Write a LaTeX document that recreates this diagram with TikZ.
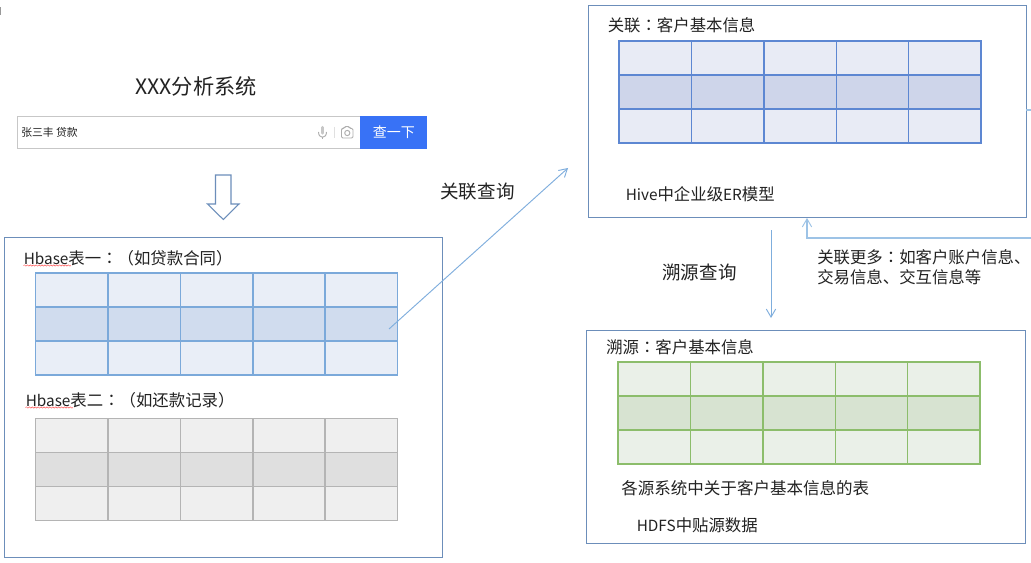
\documentclass[tikz,border=0pt]{standalone}
\usepackage{fontspec}
\setmainfont{Noto Sans CJK SC}
\newfontfamily\tcfont{Noto Sans CJK TC}
\usetikzlibrary{arrows.meta,decorations.pathmorphing}
\definecolor{framec}{HTML}{6C8EBA}
\definecolor{linkc}{HTML}{7FAEDD}
\definecolor{linkl}{HTML}{9DC3E6}
\definecolor{txt}{HTML}{222222}
\definecolor{bline}{HTML}{7BA9DA}\definecolor{blight}{HTML}{E9EEF7}\definecolor{bdark}{HTML}{D0DCEE}
\definecolor{gline}{HTML}{B4B4B4}\definecolor{glight}{HTML}{EFEFEF}\definecolor{gdark}{HTML}{DFDFDF}
\definecolor{iline}{HTML}{5D87D2}\definecolor{ilight}{HTML}{E8EBF5}\definecolor{idark}{HTML}{CED5EA}
\definecolor{vline}{HTML}{8CBD6B}\definecolor{vlight}{HTML}{EAF0E8}\definecolor{vdark}{HTML}{D7E3D1}
\definecolor{btnc}{HTML}{3872F6}
\newcommand{\gridtable}[5]{% x, y, line, light, dark
  \begin{scope}[shift={(#1,#2)}]
    \fill[#4] (0,0) rectangle (362,102);
    \fill[#5] (0,34) rectangle (362,68);
    \draw[#3,line width=1pt] (0,0) rectangle (362,102);
    \foreach \cx in {72.5,145,217.5,289.5} \draw[#3,line width=1pt] (\cx,0) -- (\cx,102);
    \foreach \cy in {34,68} \draw[#3,line width=1pt] (0,\cy) -- (362,\cy);
  \end{scope}}
\newcommand{\lat}[1]{{\fontsize{11.5pt}{14pt}\selectfont #1}}
\newcommand{\ccolon}{{\tcfont ：}}
\tikzset{
  x=0.75pt,y=-0.75pt,
  panel/.style={draw=framec,line width=0.9pt,fill=none,inner sep=0pt,anchor=north west},
  lbl/.style={text=txt,inner sep=0pt,anchor=west,font=\fontsize{12.3pt}{14pt}\selectfont},
  biglbl/.style={text=txt,inner sep=0pt,anchor=center,font=\fontsize{13.9pt}{16pt}\selectfont},
  link/.style={draw=linkc,line width=0.7pt,-{Straight Barb[length=6pt,width=7pt,line width=0.7pt]}},
  squig/.style={draw=red!70!white,line width=0.35pt,decorate,decoration={snake,amplitude=0.5pt,segment length=2.2pt}}
}
\begin{document}
\begin{tikzpicture}
\useasboundingbox (0,0) rectangle (1031,563);
\fill[white] (0,0) rectangle (1031,563);
\fill[black!40] (0,7) rectangle (1,15);
% panels
\node[panel,minimum width=328.5pt,minimum height=240pt] (left) at (4,237) {};
\node[panel,minimum width=328.5pt,minimum height=159pt] (hive) at (588,5) {};
\node[panel,minimum width=329.25pt,minimum height=159.75pt] (hdfs) at (586,330) {};
% tables
\gridtable{35.5}{273}{bline}{blight}{bdark}
\gridtable{35.5}{418.8}{gline}{glight}{gdark}
\gridtable{619}{41}{iline}{ilight}{idark}
\gridtable{618}{362}{vline}{vlight}{vdark}
% title + search
\node[text=txt,inner sep=0pt,font=\fontsize{15.9pt}{18pt}\selectfont] (title) at (196,86) {XXX分析系统};
\node[draw=black!22,line width=0.8pt,inner sep=0pt,anchor=north west,minimum width=258pt,minimum height=24pt] (search) at (16.5,116.3) {};
\node[text=txt,inner sep=0pt,anchor=west,font=\fontsize{8.1pt}{10pt}\selectfont] (query) at (21,132.5) {张三丰 贷款};
\node[fill=btnc,text=white,inner sep=0pt,anchor=north west,minimum width=50.25pt,minimum height=24.4pt,font=\fontsize{10.5pt}{13pt}\selectfont] (btn) at (360,116) {查一下};
% mic icon
\begin{scope}[draw=black!32,line width=0.7pt,fill=none]
  \draw[line width=2.6pt,line cap=round,black!22] (322.5,127.5) -- (322.5,133);
  \draw (318.5,132) .. controls (318.5,139) and (326.5,139) .. (326.5,132);
  \draw (322.5,137) -- (322.5,139.5);
  \draw[black!12] (334,127) -- (334,138);
  \draw[rounded corners=1pt] (341.5,128.5) -- (344,128.5) -- (345,126.5) -- (349,126.5) -- (350,128.5) -- (353,128.5) -- (353,138) -- (341.5,138) -- cycle;
  \draw (347.3,133) circle[radius=2.6];
\end{scope}
% hollow arrow
\draw[framec,line width=0.8pt,fill=white,line join=miter] (215.5,175) -- (231,175) -- (231,204) -- (239,204) -- (223.3,219.5) -- (207.5,204) -- (215.5,204) -- cycle;
% labels
\node[lbl] (t1) at (23.5,258) {\lat{Hbase}表一\ccolon（如贷款合同）};
\node[lbl] (t2) at (25.5,400) {\lat{Hbase}表二\ccolon（如还款记录）};
\draw[squig] (23.5,265.5) -- (71,265.5);
\draw[squig] (25.5,407.5) -- (73,407.5);
\node[lbl] (hivet) at (607.5,25.5) {关联\ccolon 客户基本信息};
\node[lbl] (hivef) at (625.5,194.5) {\lat{Hive}中企业级\lat{ER}模型};
\node[lbl] (hdfst) at (606,347) {溯源\ccolon 客户基本信息};
\node[lbl,font=\fontsize{12.4pt}{14pt}\selectfont] (hdfss) at (621,488) {各源系统中关于客户基本信息的表};
\node[lbl] (hdfsf) at (636.5,525) {\lat{HDFS}中贴源数据};
\node[biglbl] (assoc) at (477.5,192) {关联查询};
\node[biglbl] (trace) at (699.5,272) {溯源查询};
\node[lbl,anchor=north west,align=left,font=\fontsize{12.3pt}{15pt}\selectfont] (more) at (817,249.3) {关联更多\ccolon 如客户账户信息、\\交易信息、交互信息等};
% connectors
\coordinate (a0) at (389,329);
\coordinate (a1) at (568,168);
\draw[link] (a0) -- (a1);
\coordinate (d0) at (771,230);
\coordinate (d1) at (771,318);
\draw[link] (d0) -- (d1);
\coordinate (u0) at (1031,238);
\coordinate (u1) at (807,238);
\coordinate (u2) at (807,218);
\draw[link,draw=linkl,line width=1pt] (u0) -- (u1) -- (u2);
\coordinate (s0) at (1026,110);
\coordinate (s1) at (1031,110);
\draw[linkl,line width=1pt] (s0) -- (s1);
\end{tikzpicture}
\end{document}
